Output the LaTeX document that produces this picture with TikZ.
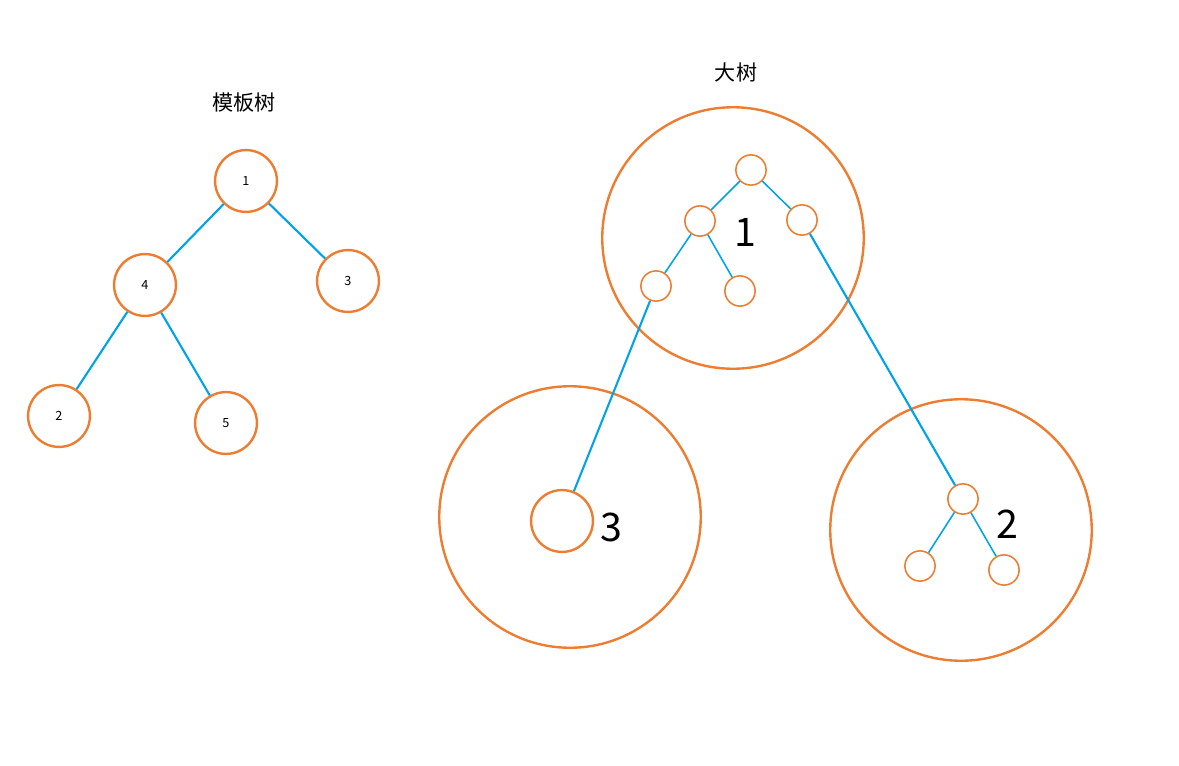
\documentclass[tikz,border=0pt]{standalone}
\usepackage{fontspec}
\setmainfont{Noto Sans CJK SC}
\definecolor{treeorange}{RGB}{237,125,49}
\definecolor{treeblue}{RGB}{0,162,232}
\tikzset{
  tnode/.style={circle, draw=treeorange, line width=3.4pt, minimum size=88pt, inner sep=0pt, font=\fontsize{18}{20}\selectfont},
  snode/.style={circle, draw=treeorange, line width=2.2pt, minimum size=43pt, inner sep=0pt},
  region/.style={circle, draw=treeorange, line width=3.4pt, minimum size=372pt, inner sep=0pt},
  tedge/.style={treeblue, line width=3pt},
  sedge/.style={treeblue, line width=2.2pt},
  bignum/.style={font=\fontsize{56}{60}\selectfont},
  title/.style={font=\fontsize{30}{34}\selectfont}
}
\begin{document}
\begin{tikzpicture}[x=0.5mm, y=-0.5mm]
    \useasboundingbox (0,0) rectangle (1179,766);

    % Template tree
    \node[title] (ttitle) at (244,103) {模板树};
    \node[tnode] (t1) at (246,181) {1};
    \node[tnode] (t4) at (145,285) {4};
    \node[tnode] (t3) at (348,281) {3};
    \node[tnode] (t2) at (59,416) {2};
    \node[tnode] (t5) at (226,423) {5};
    \draw[tedge] (t1) -- (t4);
    \draw[tedge] (t1) -- (t3);
    \draw[tedge] (t4) -- (t2);
    \draw[tedge] (t4) -- (t5);

    % Big tree
    \node[title] (btitle) at (736,72) {大树};
    \node[region] (r1) at (733,238) {};
    \node[region] (r3) at (570,517) {};
    \node[region] (r2) at (961,530) {};
    \node[bignum] (l1) at (745,232) {1};
    \node[bignum] (l3) at (611,527) {3};
    \node[bignum] (l2) at (1007,524) {2};

    \node[snode] (a) at (751,170) {};
    \node[snode] (b) at (700,221) {};
    \node[snode] (c) at (802,220) {};
    \node[snode] (d) at (656,286) {};
    \node[snode] (e) at (740,291) {};
    \node[tnode] (m) at (562,521) {};
    \node[snode] (f) at (963,499) {};
    \node[snode] (g) at (920,566) {};
    \node[snode] (h) at (1004,570) {};
    \draw[sedge] (a) -- (b);
    \draw[sedge] (a) -- (c);
    \draw[sedge] (b) -- (d);
    \draw[sedge] (b) -- (e);
    \draw[tedge] (d) -- (m);
    \draw[tedge] (c) -- (f);
    \draw[sedge] (f) -- (g);
    \draw[sedge] (f) -- (h);
\end{tikzpicture}
\end{document}
